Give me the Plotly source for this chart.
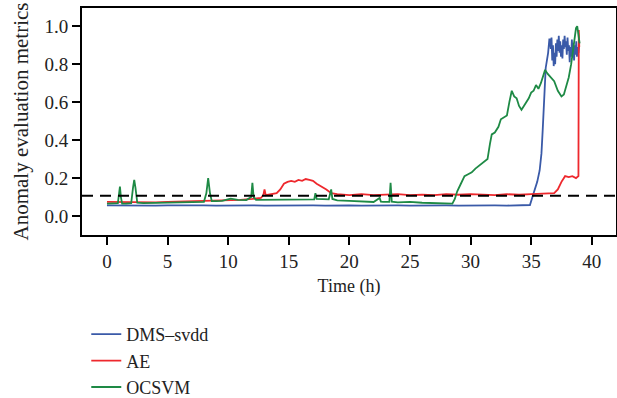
import plotly.graph_objects as go

# ---------------- data ----------------
dms_t = [0, 1, 2, 3, 4, 5, 6, 7, 8, 9, 10, 11, 12, 13, 14, 15, 16, 17, 18, 19, 20,
         21, 22, 23, 24, 25, 26, 27, 28, 29, 30, 31, 32, 33, 34, 34.9,
         35.2, 35.5, 35.7, 35.85, 35.95, 36.05, 36.1, 36.2, 36.3, 36.4, 36.5,
         36.55, 36.62, 36.68, 36.74, 36.8, 36.86, 36.92, 36.98, 37.04, 37.1, 37.16,
         37.22, 37.28, 37.34, 37.4, 37.46, 37.52, 37.58, 37.64, 37.7, 37.76, 37.82,
         37.88, 37.94, 38.0, 38.06, 38.12, 38.18, 38.24, 38.3, 38.36, 38.42, 38.48,
         38.54, 38.6, 38.66, 38.72, 38.78, 38.84, 38.9, 38.96]
dms_v = [0.056, 0.055, 0.057, 0.056, 0.055, 0.056, 0.057, 0.055, 0.056, 0.055, 0.056,
         0.057, 0.056, 0.055, 0.056, 0.057, 0.058, 0.056, 0.055, 0.057, 0.056,
         0.055, 0.056, 0.057, 0.056, 0.055, 0.056, 0.055, 0.056, 0.055, 0.056, 0.055,
         0.056, 0.055, 0.056, 0.058,
         0.12, 0.18, 0.24, 0.33, 0.45, 0.60, 0.72, 0.78, 0.82, 0.86, 0.93,
         0.93, 0.88, 0.94, 0.82, 0.90, 0.79, 0.86, 0.80, 0.91, 0.84, 0.93,
         0.87, 0.95, 0.86, 0.92, 0.84, 0.90, 0.83, 0.93, 0.88, 0.95, 0.89,
         0.92, 0.85, 0.94, 0.87, 0.90, 0.81, 0.89, 0.84, 0.93, 0.86, 0.91,
         0.82, 0.90, 0.85, 0.92, 0.84, 0.89, 0.86, 0.90]

ae_t = [0, 1, 2, 3, 4, 5, 6, 7, 8, 9, 10, 11, 12, 12.7, 12.9, 13.0, 13.1, 13.5, 14.0,
        14.3, 14.6, 14.9, 15.2, 15.5, 15.8, 16.1, 16.4, 16.7, 17.0, 17.3, 17.7, 18.1,
        18.5, 19, 20, 21, 22, 23, 24, 25, 26, 27, 28, 29, 30, 31, 32, 33, 34, 35, 36,
        36.9, 37.2, 37.5, 37.8, 38.1, 38.4, 38.7, 38.9, 38.93, 38.97]
ae_v = [0.075, 0.074, 0.072, 0.070, 0.072, 0.074, 0.076, 0.075, 0.076, 0.078, 0.080,
        0.085, 0.090, 0.095, 0.110, 0.140, 0.110, 0.115, 0.120,
        0.140, 0.170, 0.180, 0.185, 0.180, 0.190, 0.185, 0.195, 0.190, 0.185, 0.170,
        0.155, 0.140, 0.120, 0.115, 0.110, 0.115, 0.110, 0.112, 0.115, 0.110, 0.113,
        0.110, 0.115, 0.112, 0.115, 0.113, 0.110, 0.115, 0.112, 0.115, 0.116,
        0.120, 0.140, 0.180, 0.210, 0.205, 0.210, 0.200, 0.210, 0.980, 0.890]

oc_t = [0, 0.5, 0.9, 1.0, 1.07, 1.15, 1.25, 1.6, 2.0, 2.15, 2.25, 2.35, 2.5, 3, 4, 5,
        6, 7, 8.0, 8.2, 8.35, 8.5, 8.65, 9, 9.5, 10.2, 10.8, 11.5, 11.9, 12.0, 12.1,
        12.3, 13, 14, 15, 16, 17.1, 17.2, 17.3, 18.3, 18.5, 18.6, 19, 20, 21, 22,
        22.5, 22.6, 22.8, 23.3, 23.4, 23.5, 24, 25, 26, 27, 28, 28.5,
        28.7, 28.9, 29.2, 29.5, 29.8, 30.1, 30.4, 30.8, 31.1, 31.4, 31.6, 31.75,
        32.0, 32.3, 32.5, 32.8, 33.0, 33.2, 33.4, 33.6, 33.8, 34.0, 34.2, 34.4,
        34.6, 34.8, 35.0, 35.2, 35.4, 35.6, 35.8, 36.0, 36.15, 36.35, 36.6, 36.9,
        37.2, 37.5, 37.7, 37.9, 38.1, 38.3, 38.45, 38.6, 38.7, 38.8, 38.9, 39.0]
oc_v = [0.065, 0.066, 0.068, 0.120, 0.155, 0.100, 0.065, 0.066, 0.068, 0.150, 0.190,
        0.150, 0.070, 0.068, 0.070, 0.072,
        0.074, 0.073, 0.075, 0.120, 0.200, 0.120, 0.078, 0.078, 0.080, 0.092, 0.085,
        0.084, 0.100, 0.175, 0.100,
        0.085, 0.085, 0.088, 0.086, 0.087, 0.088, 0.120, 0.090, 0.088, 0.140, 0.090,
        0.082, 0.080, 0.076, 0.074,
        0.095, 0.076, 0.074, 0.074, 0.175, 0.076, 0.072, 0.074, 0.070, 0.068, 0.066,
        0.065,
        0.090, 0.130, 0.170, 0.210, 0.220, 0.230, 0.250, 0.270, 0.290, 0.300, 0.380,
        0.430,
        0.440, 0.470, 0.510, 0.520, 0.530, 0.600, 0.660, 0.630, 0.620, 0.580, 0.560,
        0.580,
        0.600, 0.620, 0.650, 0.660, 0.690, 0.670, 0.700, 0.740, 0.770, 0.750, 0.730,
        0.710,
        0.660, 0.630, 0.640, 0.680, 0.730, 0.800, 0.880, 0.960, 0.990, 1.000, 0.960,
        0.910]

threshold = 0.107

x_ticks = [0, 5, 10, 15, 20, 25, 30, 35, 40]
y_ticks = [0.0, 0.2, 0.4, 0.6, 0.8, 1.0]

series_names = ["DMS\u2013svdd", "AE", "OCSVM"]
series_colors = ["#3a5aa8", "#ee282d", "#1e8a45"]

# ---------------- figure ----------------
FONT = "Liberation Serif"
fig = go.Figure()
for t, v, name, col in zip([dms_t, ae_t, oc_t], [dms_v, ae_v, oc_v],
                           series_names, series_colors):
    fig.add_trace(go.Scatter(x=t, y=v, mode="lines", name=name,
                             line=dict(color=col, width=1.8)))

fig.add_shape(type="line", xref="paper", x0=0, x1=1, yref="y",
              y0=threshold, y1=threshold,
              line=dict(color="black", width=2, dash="11px,7px"))

axis_common = dict(showline=True, linecolor="black", linewidth=2, mirror=True,
                   ticks="outside", ticklen=8, tickwidth=1.5, tickcolor="black",
                   showgrid=False, zeroline=False, automargin=False,
                   tickfont=dict(family=FONT, size=19, color="#222"))

fig.update_xaxes(range=[-2.06, 42.0], tickvals=x_ticks,
                 title=dict(text="Time (h)", font=dict(family=FONT, size=18, color="#222"),
                            standoff=9),
                 **axis_common)
fig.update_yaxes(range=[-0.1, 1.096], tickvals=y_ticks, tickformat=".1f",
                 title=dict(text="Anomaly evaluation metrics",
                            font=dict(family=FONT, size=21, color="#222"), standoff=10),
                 **axis_common)

fig.update_layout(
    width=617, height=398, autosize=False,
    margin=dict(l=82, r=1, t=8, b=163),
    paper_bgcolor="white", plot_bgcolor="white",
    font=dict(family=FONT, size=18, color="#222"),
    showlegend=True,
    legend=dict(x=0.008, xanchor="left", xref="paper",
                y=0.206, yanchor="top", yref="container",
                font=dict(family=FONT, size=18, color="#222"),
                bgcolor="rgba(0,0,0,0)", borderwidth=0),
)

fig.write_html("out.html", config={"displayModeBar": False},
               post_script="document.body.style.margin='0';document.body.style.padding='0';")
